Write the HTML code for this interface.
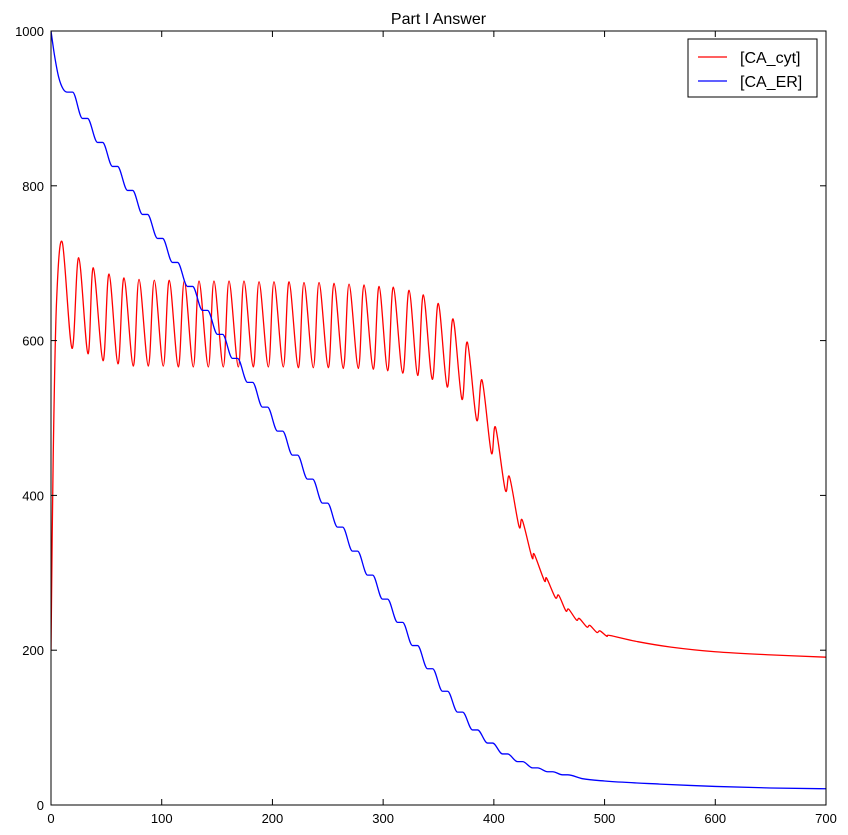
<!DOCTYPE html>
<html><head><meta charset="utf-8"><style>
html,body{margin:0;padding:0;background:#fff;}
svg{display:block;font-family:"Liberation Sans",sans-serif;}
</style></head><body>
<svg id="chart" width="848" height="835"></svg>
<script>
const xTicks=[0,100,200,300,400,500,600,700];
const yTicks=[0,200,400,600,800,1000];
const redT=[0,2,5,10.2,19.0,25.0,33.4,38.2,47.0,52.4,60.5,65.9,74.3,79.5,87.9,93.3,101.4,106.8,115.0,120.4,128.5,133.7,142.1,147.2,155.6,160.8,169.2,174.3,182.7,187.9,196.3,201.4,209.8,215.0,223.4,228.5,236.9,242.1,250.5,255.6,264.0,269.2,277.6,282.7,291.1,296.3,304.1,309.2,317.7,323.4,331.2,336.3,344.4,349.8,357.9,363.1,371.2,376.0,384.5,389.3,397.7,401.5,410.3,414.1,422.7,425.7,434.4,436.5,445.6,447.7,455.6,458.6,465,467.6,474.6,477.2,484,486.8,493,495.9,502,504.9,530,560,600,650,700];
const redV=[200,450,650,727,590,707,583,694,574,686,570,681,567,679,567,678,567,678,566,677,566,677,566,677,566,677,566,677,566,676,566,676,566,676,565,675,565,675,565,674,564,673,564,672,563,670,561,669,558,665,555,659,550,648,540,628,524,598,497,549,455,488,407,424,360,368,320,324,290,293,268,271,251,253,239,241,230,232,223,225,218,219,211,204,198,194,191];
const blueStartT=[0,3,7,11];
const blueStartV=[1000,970,940,925];
const bluePlateauT=[17.2,30.7,44.3,57.8,71.4,84.9,98.5,112.0,125.6,139.1,152.7,166.2,179.8,193.3,206.9,220.4,234.0,247.5,261.1,274.6,288.2,301.7,315.3,328.8,342.4,355.9,369.5,383.0,396.6,410.1,423.7,437.2,450.8,464.3];
const bluePlateauV=[921,887,856,825,794,763,732,701,670,639,608,577,546,514,483,452,421,390,359,328,297,266,236,206,176,147,120,97,80,66,56,48,43,39];
const blueTailT=[480,500,550,600,650,700];
const blueTailV=[34,31,27,24,22,21];

const L=51,R=826,T=31,B=805;
const sx=t=>L+(t/700)*(R-L);
const sy=v=>B-(v/1000)*(B-T);
const NS="http://www.w3.org/2000/svg";
const svg=document.getElementById('chart');
function mk(tag,attrs){const e=document.createElementNS(NS,tag);for(const k in attrs)e.setAttribute(k,attrs[k]);return e;}
function catmull(pts){
  let d="M"+pts[0][0].toFixed(2)+","+pts[0][1].toFixed(2);
  for(let i=0;i<pts.length-1;i++){
    const p0=pts[i-1]||pts[i],p1=pts[i],p2=pts[i+1],p3=pts[i+2]||p2;
    const c1=[p1[0]+(p2[0]-p0[0])/6,p1[1]+(p2[1]-p0[1])/6];
    const c2=[p2[0]-(p3[0]-p1[0])/6,p2[1]-(p3[1]-p1[1])/6];
    d+=" C"+c1[0].toFixed(2)+","+c1[1].toFixed(2)+" "+c2[0].toFixed(2)+","+c2[1].toFixed(2)+" "+p2[0].toFixed(2)+","+p2[1].toFixed(2);
  }
  return d;
}
function monotone(pts){
  const n=pts.length,dx=[],m=[],s=[];
  for(let i=0;i<n-1;i++){dx[i]=pts[i+1][0]-pts[i][0];s[i]=(pts[i+1][1]-pts[i][1])/dx[i];}
  m[0]=s[0];m[n-1]=s[n-2];
  for(let i=1;i<n-1;i++){m[i]=(s[i-1]*s[i]<=0)?0:(s[i-1]+s[i])/2;}
  for(let i=0;i<n-1;i++){
    if(s[i]===0){m[i]=0;m[i+1]=0;continue;}
    const a=m[i]/s[i],b=m[i+1]/s[i],h=a*a+b*b;
    if(h>9){const t=3/Math.sqrt(h);m[i]=t*a*s[i];m[i+1]=t*b*s[i];}
  }
  let d="M"+pts[0][0].toFixed(2)+","+pts[0][1].toFixed(2);
  for(let i=0;i<n-1;i++){
    const h=dx[i]/3;
    d+=" C"+(pts[i][0]+h).toFixed(2)+","+(pts[i][1]+m[i]*h).toFixed(2)+" "+(pts[i+1][0]-h).toFixed(2)+","+(pts[i+1][1]-m[i+1]*h).toFixed(2)+" "+pts[i+1][0].toFixed(2)+","+pts[i+1][1].toFixed(2);
  }
  return d;
}
const title=mk('text',{x:(L+R)/2,y:24,'text-anchor':'middle','font-size':16,fill:'#000'});
title.textContent='Part I Answer';


svg.appendChild(title);
const clip=mk('clipPath',{id:'pc'});clip.appendChild(mk('rect',{x:L,y:T,width:R-L,height:B-T}));svg.appendChild(clip);
const rp=redT.map((t,i)=>[sx(t),sy(redV[i])]);
const red=mk('path',{d:catmull(rp),fill:'none',stroke:'#ff0000','stroke-width':1.3,'clip-path':'url(#pc)'});


svg.appendChild(red);
const bp=[];
blueStartT.forEach((t,i)=>bp.push([sx(t),sy(blueStartV[i])]));
bluePlateauT.forEach((t,i)=>{bp.push([sx(t-2.3),sy(bluePlateauV[i])]);bp.push([sx(t+2.3),sy(bluePlateauV[i])]);});
blueTailT.forEach((t,i)=>bp.push([sx(t),sy(blueTailV[i])]));
const blue=mk('path',{d:monotone(bp),fill:'none',stroke:'#0000ff','stroke-width':1.3,'clip-path':'url(#pc)'});


svg.appendChild(blue);
const frame=mk('rect',{x:L,y:T,width:R-L,height:B-T,fill:'none',stroke:'#000','stroke-width':1});


svg.appendChild(frame);
xTicks.forEach(v=>{
  const x=sx(v);
  svg.appendChild(mk('line',{x1:x,y1:B,x2:x,y2:B-6,stroke:'#000'}));
  svg.appendChild(mk('line',{x1:x,y1:T,x2:x,y2:T+6,stroke:'#000'}));
  const tx=mk('text',{x:x,y:B+18,'text-anchor':'middle','font-size':13});
  tx.textContent=v;
  
  
  svg.appendChild(tx);
});
yTicks.forEach(v=>{
  const y=sy(v);
  svg.appendChild(mk('line',{x1:L,y1:y,x2:L+6,y2:y,stroke:'#000'}));
  svg.appendChild(mk('line',{x1:R,y1:y,x2:R-6,y2:y,stroke:'#000'}));
  const tx=mk('text',{x:L-7,y:y+5,'text-anchor':'end','font-size':13});
  tx.textContent=v;
  
  
  svg.appendChild(tx);
});
const lg=mk('g',{});


lg.appendChild(mk('rect',{x:688,y:39,width:129,height:58,fill:'#fff',stroke:'#000'}));
[['[CA_cyt]','#ff0000',57],['[CA_ER]','#0000ff',81]].forEach(([lab,c,y])=>{
  const g=mk('g',{});
  
  
  g.appendChild(mk('line',{x1:698,y1:y,x2:727,y2:y,stroke:c,'stroke-width':1.3}));
  const t=mk('text',{x:740,y:y+6,'font-size':16});t.textContent=lab;g.appendChild(t);
  lg.appendChild(g);
});
svg.appendChild(lg);
</script>
</body></html>
